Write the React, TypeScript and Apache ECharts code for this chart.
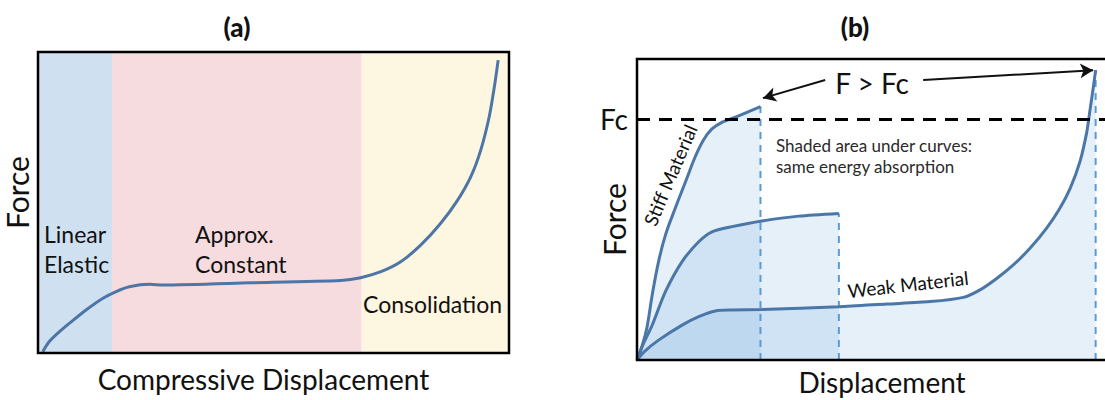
import React, { useEffect, useRef } from "react";
import * as echarts from "echarts";

// ---------- Panel (a) ----------
const regionNames = ["Linear\nElastic", "Approx.\nConstant", "Consolidation"];
const regionBounds = [0, 15.7, 68.7, 100];
const regionColors = ["#cfe0f1", "#f6dcdf", "#fdf6e1"];

const compX = [1.0, 2.4, 4.5, 6.7, 10.2, 13.8, 16.6, 19.4, 23.7, 26.5, 45.1, 64.3, 68.5, 72.8, 77.0, 81.3, 85.5, 89.1, 91.9, 94.0, 95.8, 96.9, 97.7];
const compY = [0.4, 3.8, 7.0, 9.9, 14.3, 18.2, 20.4, 22.0, 22.8, 22.6, 23.3, 24.1, 25.0, 27.0, 30.3, 35.9, 43.1, 50.8, 58.6, 67.4, 78.5, 88.5, 97.3];

// ---------- Panel (b) ----------
const stiffX = [0, 1.0, 2.0, 3.1, 4.4, 5.8, 7.8, 9.9, 11.9, 13.6, 15.3, 17.4, 19.8, 25.2];
const stiffY = [0, 4.5, 10.5, 21.6, 32.7, 41.5, 50.4, 59.2, 67.6, 73.2, 76.8, 79.0, 80.5, 84.2];

const mediumX = [0, 1.2, 3.1, 5.8, 9.2, 12.6, 15.3, 19.4, 25.5, 33.0, 41.2];
const mediumY = [0, 5.0, 11.6, 22.7, 32.7, 39.3, 42.6, 44.3, 46.2, 47.8, 48.7];

const weakX = [0, 1.5, 4.4, 9.2, 12.6, 16.0, 19.4, 25.5, 41.2, 51.0, 59.8, 66.6, 70.0, 73.4, 76.8, 80.2, 83.6, 86.3, 88.4, 90.4, 91.8, 92.4, 93.1, 93.6];
const weakY = [0, 2.8, 6.6, 11.6, 14.4, 16.3, 16.6, 16.8, 17.7, 18.6, 19.4, 20.8, 23.3, 27.1, 31.6, 37.1, 43.8, 50.4, 57.0, 65.9, 75.8, 82.5, 90.3, 96.3];

const criticalForce = 80;
const arrowLeft = [[38.4, 93.0], [25.7, 87.0]];
const arrowRight = [[58.4, 93.0], [93.1, 96.3]];

const FONT = "Lato";
const TEXT = "#111";
const LINE_A = "#4d76a6";
const LINE_B = "#4a76a8";
const FILL_B = "rgba(91,155,213,0.22)";
const DASH_B = "#5b9bd5";
const SMOOTH = 0.25;
const SMOOTH_STIFF = 0.4;

const pairs = (xs: number[], ys: number[]) => xs.map((x, i) => [x, ys[i]]);
const last = (xs: number[], ys: number[]) => [xs[xs.length - 1], ys[ys.length - 1]];

function buildOption(): any {
  const nameStyle = { fontFamily: FONT, fontSize: 28, color: TEXT };
  const axisCommon = {
    type: "value",
    min: 0,
    max: 100,
    axisLine: { show: false },
    axisTick: { show: false },
    axisLabel: { show: false },
    splitLine: { show: false },
    nameLocation: "middle",
    nameTextStyle: nameStyle,
  };

  const areaSeries = (name: string, xs: number[], ys: number[], smooth: number) => ({
    name: name + "-area",
    type: "line",
    xAxisIndex: 1,
    yAxisIndex: 1,
    data: pairs(xs, ys),
    smooth,
    symbol: "none",
    lineStyle: { width: 0, opacity: 0 },
    areaStyle: { color: FILL_B, origin: "start" },
    z: 1,
    silent: true,
  });

  const curveSeries = (name: string, xs: number[], ys: number[], smooth: number, extra: any = {}) => ({
    name,
    type: "line",
    xAxisIndex: 1,
    yAxisIndex: 1,
    data: pairs(xs, ys),
    smooth,
    symbol: "none",
    lineStyle: { color: LINE_B, width: 3 },
    z: 4,
    ...extra,
  });

  const dropSeries = (name: string, xs: number[], ys: number[]) => {
    const [x, y] = last(xs, ys);
    return {
      name: name + "-drop",
      type: "line",
      xAxisIndex: 1,
      yAxisIndex: 1,
      data: [
        [x, 0],
        [x, y],
      ],
      symbol: "none",
      lineStyle: { color: DASH_B, width: 2, type: [7, 6] },
      z: 3,
    };
  };

  return {
    animation: false,
    backgroundColor: "#ffffff",
    textStyle: { fontFamily: FONT },
    grid: [
      { left: 38, top: 52, width: 471, height: 301, show: true, borderColor: "#000", borderWidth: 2.5, backgroundColor: "transparent", z: 10, outerBoundsMode: "none", containLabel: false },
      { left: 637, top: 59, width: 490, height: 301, show: true, borderColor: "#000", borderWidth: 2.5, backgroundColor: "transparent", z: 10, outerBoundsMode: "none", containLabel: false },
    ],
    xAxis: [
      { ...axisCommon, gridIndex: 0, name: "Compressive Displacement", nameGap: 12, nameTextStyle: { ...nameStyle, padding: [0, 20, 0, 0] } },
      { ...axisCommon, gridIndex: 1, name: "Displacement", nameGap: 8 },
    ],
    yAxis: [
      { ...axisCommon, gridIndex: 0, name: "Force", nameGap: 6, nameTextStyle: { ...nameStyle, fontSize: 30, padding: [0, 0, 0, 20] } },
      { ...axisCommon, gridIndex: 1, name: "Force", nameGap: 8, nameTextStyle: { ...nameStyle, fontSize: 30, padding: [0, 20, 0, 0] } },
    ],
    series: [
      {
        name: "compressive",
        type: "line",
        xAxisIndex: 0,
        yAxisIndex: 0,
        data: pairs(compX, compY),
        smooth: SMOOTH,
        symbol: "none",
        lineStyle: { color: LINE_A, width: 3 },
        z: 4,
        markArea: {
          silent: true,
          label: { show: false },
          data: regionNames.map((n, i) => [
            { name: n, xAxis: regionBounds[i], itemStyle: { color: regionColors[i] } },
            { xAxis: regionBounds[i + 1] },
          ]),
        },
      },
      areaSeries("stiff", stiffX, stiffY, SMOOTH_STIFF),
      areaSeries("medium", mediumX, mediumY, SMOOTH),
      areaSeries("weak", weakX, weakY, SMOOTH),
      dropSeries("stiff", stiffX, stiffY),
      dropSeries("medium", mediumX, mediumY),
      dropSeries("weak", weakX, weakY),
      curveSeries("Stiff Material", stiffX, stiffY, SMOOTH_STIFF),
      curveSeries("Medium Material", mediumX, mediumY, SMOOTH, {
        markLine: {
          silent: true,
          symbol: ["none", "arrow"],
          symbolSize: [11, 13],
          label: { show: false },
          lineStyle: { color: "#111", width: 2, type: "solid" },
          data: [arrowLeft, arrowRight].map((a) => [
            { coord: a[0], symbol: "none" },
            { coord: a[1], symbol: "arrow" },
          ]),
        },
      }),
      curveSeries("Weak Material", weakX, weakY, SMOOTH, {
        markLine: {
          silent: true,
          symbol: ["none", "none"],
          lineStyle: { color: "#000", width: 3, type: [13, 9] },
          label: {
            show: true,
            position: "start",
            formatter: "Fc",
            fontFamily: FONT,
            fontSize: 28,
            color: TEXT,
            distance: 9,
          },
          data: [{ yAxis: criticalForce }],
        },
      }),
    ],
    graphic: [
      { type: "text", x: 237, y: 27, style: { text: "(a)", font: `900 26px ${FONT}`, fill: TEXT, align: "center", verticalAlign: "middle" } },
      { type: "text", x: 855, y: 27, style: { text: "(b)", font: `900 26px ${FONT}`, fill: TEXT, align: "center", verticalAlign: "middle" } },
      { type: "text", x: 44, y: 219, z: 20, style: { text: regionNames[0], font: `23px ${FONT}`, lineHeight: 30, fill: TEXT } },
      { type: "text", x: 195, y: 219, z: 20, style: { text: regionNames[1], font: `23px ${FONT}`, lineHeight: 30, fill: TEXT } },
      { type: "text", x: 363, y: 289, z: 20, style: { text: regionNames[2], font: `23px ${FONT}`, lineHeight: 30, fill: TEXT } },
      { type: "text", x: 872, y: 83, z: 20, style: { text: "F > Fc", font: `28px ${FONT}`, fill: TEXT, align: "center", verticalAlign: "middle", backgroundColor: "#fff", padding: [0, 6] } },
      { type: "text", x: 776, y: 135, z: 20, style: { text: "Shaded area under curves:\nsame energy absorption", font: `17px ${FONT}`, lineHeight: 21, fill: "#2a2a2a" } },
      { type: "text", x: 670, y: 175, rotation: 1.17, z: 20, style: { text: "Stiff Material", font: `19px ${FONT}`, fill: TEXT, align: "center", verticalAlign: "middle" } },
      { type: "text", x: 908, y: 284, rotation: 0.11, z: 20, style: { text: "Weak Material", font: `19px ${FONT}`, fill: TEXT, align: "center", verticalAlign: "middle" } },
    ],
  };
}

export default function App() {
  const ref = useRef<HTMLDivElement>(null);
  useEffect(() => {
    document.body.style.margin = "0";
    if (!ref.current) return;
    const chart = echarts.init(ref.current, null, { renderer: "svg" });
    chart.setOption(buildOption());
    return () => chart.dispose();
  }, []);
  return <div ref={ref} style={{ width: 1105, height: 400, overflow: "hidden" }} />;
}
